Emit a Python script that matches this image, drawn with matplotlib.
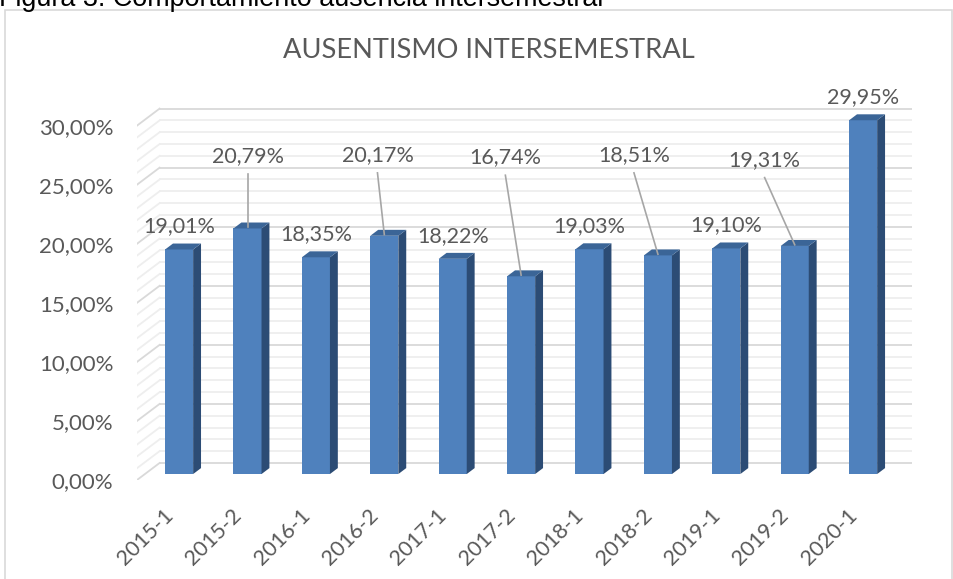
import numpy as np
import matplotlib.pyplot as plt
from matplotlib.patches import Polygon, Rectangle

# data
semestres = ['2015-1', '2015-2', '2016-1', '2016-2', '2017-1', '2017-2',
             '2018-1', '2018-2', '2019-1', '2019-2', '2020-1']
ausentismo = [19.01, 20.79, 18.35, 20.17, 18.22, 16.74,
              19.03, 18.51, 19.10, 19.31, 29.95]
y_ticks = [0, 5, 10, 15, 20, 25, 30]

# labels moved by hand in the original (x shift, y level)
moved_labels = {1: (0.0, 27.4), 3: (-0.1, 27.5), 5: (-0.23, 27.3),
                7: (-0.35, 27.5), 9: (-0.44, 27.1)}

FRONT = '#4f81bd'
SIDE = '#2c4c75'
TOP = '#3b6597'
TXT = '#595959'
FONT = 'Lato'

# 3d look: offset of back wall and bar depth
DXW, DYW = 0.33, 1.44
D0, D1 = 0.35, 0.7
W = 0.41


def pct(v):
    return f'{v:.2f}%'.replace('.', ',')


fig = plt.figure(figsize=(9.54, 5.79), dpi=100)
fig.patches.append(Rectangle((5 / 954, -0.01), 947.5 / 954, 1 - 10.5 / 579 + 0.01,
                             transform=fig.transFigure, fill=False,
                             edgecolor='#d9d9d9', lw=1.2))
fig.text(-0.001, 1 - 5.5 / 579, 'Figura 3. Comportamiento ausencia intersemestral',
         family='Liberation Sans', fontsize=19.4, va='baseline', ha='left', color='black')
fig.text(489 / 954, 1 - 51 / 579, 'AUSENTISMO INTERSEMESTRAL', family=FONT,
         fontsize=19.6, color=TXT, ha='center', va='center')

ax = fig.add_axes([137 / 954, 99 / 579, 775 / 954, 378 / 579])
n = len(semestres)
ax.set_xlim(-0.5, n - 0.5 + DXW)
ax.set_ylim(0, 32)
for s in ax.spines.values():
    s.set_visible(False)
ax.patch.set_visible(False)

# walls with gridlines
x0, x1 = -0.5, n - 0.5
for v in range(0, 31):
    c = '#d9d9d9' if v % 5 == 0 else '#eeeeee'
    ax.plot([x0 + DXW, x1 + DXW], [v + DYW, v + DYW], color=c, lw=1.3, zorder=1)
    ax.plot([x0, x0 + DXW], [v, v + DYW], color=c, lw=1.3, zorder=1)

# bars
fx, fy = D0 * DXW, D0 * DYW
bx, by = (D1 - D0) * DXW, (D1 - D0) * DYW
pos = np.arange(n) + fx
ax.bar(pos, ausentismo, width=W, bottom=fy, color=FRONT, zorder=3)
for p, v in zip(pos, ausentismo):
    xl, xr = p - W / 2, p + W / 2
    top = fy + v
    ax.add_patch(Polygon([(xr, fy), (xr + bx, fy + by), (xr + bx, top + by), (xr, top)],
                         closed=True, color=SIDE, zorder=3, lw=0))
    ax.add_patch(Polygon([(xl, top), (xr, top), (xr + bx, top + by), (xl + bx, top + by)],
                         closed=True, color=TOP, zorder=3, lw=0))

# data labels
for i, (p, v) in enumerate(zip(pos, ausentismo)):
    if i in moved_labels:
        sx, ly = moved_labels[i]
        ax.text(p + sx, ly, pct(v), family=FONT, fontsize=15.5, color=TXT,
                ha='center', va='center', zorder=5)
        ax.plot([p + sx, p], [ly - 1.5, fy + v + 0.1], color='#a6a6a6', lw=1.2, zorder=4)
    else:
        ax.text(p, fy + v + 1.95, pct(v), family=FONT, fontsize=15.5, color=TXT,
                ha='center', va='center', zorder=5)

ax.set_yticks(y_ticks)
ax.set_yticklabels([pct(t) for t in y_ticks], family=FONT, fontsize=16, color=TXT)
ax.set_xticks(np.arange(n) - 0.12)
ax.set_xticklabels(semestres, family=FONT, fontsize=15.5, color=TXT,
                   rotation=45, ha='right', va='top', rotation_mode='anchor')
ax.tick_params(axis='y', length=0, pad=17)
ax.tick_params(axis='x', length=0, pad=18)

fig.savefig('out.png', dpi=100)
